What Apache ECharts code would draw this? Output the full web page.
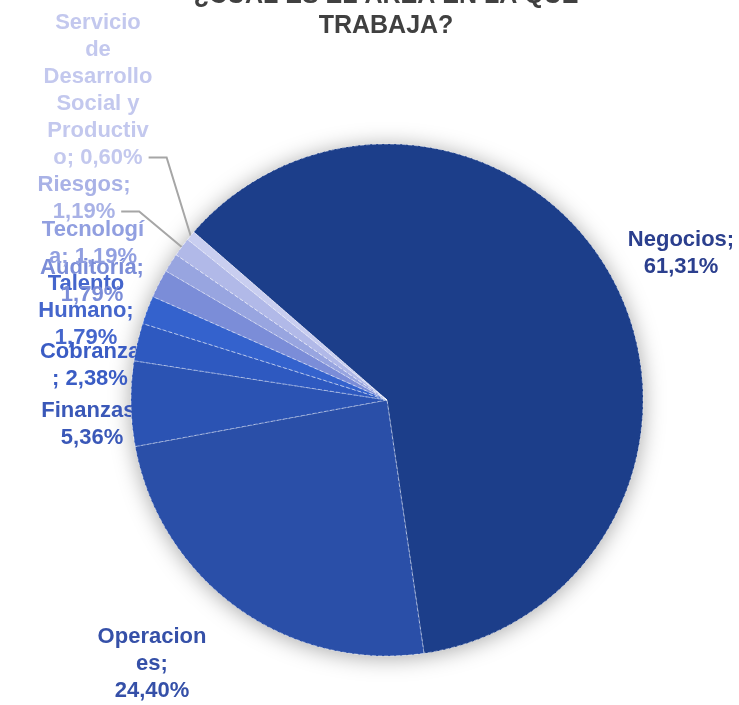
<!DOCTYPE html>
<html>
<head>
<meta charset="utf-8">
<script src="https://cdn.jsdelivr.net/npm/echarts@6/dist/echarts.min.js"></script>
<style>html,body{margin:0;padding:0;background:#fff;}#c{width:739px;height:705px;}</style>
</head>
<body>
<div id="c"></div>
<script>
const titleLines = ['¿CUÁL ES EL ÁREA EN LA QUE', 'TRABAJA?'];
const categories = ['Negocios', 'Operaciones', 'Finanzas', 'Cobranza', 'Talento Humano', 'Auditoría', 'Tecnología', 'Riesgos', 'Servicio de Desarrollo Social y Productivo'];
const values = [61.31, 24.40, 5.36, 2.38, 1.79, 1.79, 1.19, 1.19, 0.60];
// wrapped display text of each category name, as in the picture (value appended)
const labelNames = ['Negocios;\n', 'Operacion\nes;\n', 'Finanzas;\n', 'Cobranza\n; ', 'Talento\nHumano;\n', 'Auditoría;\n', 'Tecnologí\na; ', 'Riesgos;\n', 'Servicio\nde\nDesarrollo\nSocial y\nProductiv\no; '];

const colors = ['#1c3e8a', '#2a4fa8', '#2b53b3', '#2e59c0', '#3462cd', '#7b8dd8', '#98a5e0', '#b1b9e8', '#c9cef0'];
const labelColors = ['#2b3f8e', '#3550a8', '#3a58b8', '#3a5cc4', '#4566cc', '#7b8dd8', '#919fe0', '#a9b2e6', '#c3c8ee'];

// label placement (layout only): centre of each label box
const labelPlace = [[681, 253], [152, 664], [92, 424], [90, 365], [86, 311], [92, 281], [93, 243], [84, 198], [98, 90]];
const LINE_H = 27;

function fmt(v) { return v.toFixed(2).replace('.', ',') + '%'; }
const texts = categories.map((c, i) => labelNames[i] + fmt(values[i]));

const ctx = document.createElement('canvas').getContext('2d');
ctx.font = 'bold 22px "Liberation Sans"';

const labelData = categories.map((c, i) => ({
  name: c,
  value: values[i],
  itemStyle: { color: colors[i] },
  label: { color: labelColors[i], formatter: texts[i] },
  labelLine: { show: i >= 7 }
}));
const pieData = categories.map((c, i) => ({ name: c, value: values[i], itemStyle: { color: colors[i] } }));

const common = { center: [387, 400], radius: 256, startAngle: 139, clockwise: true };

const chart = echarts.init(document.getElementById('c'));
chart.setOption({
  animation: false,
  title: {
    text: titleLines.join('\n'),
    left: 381,
    top: -24,
    textAlign: 'center',
    textStyle: { fontFamily: 'Liberation Sans', fontSize: 25, fontWeight: 'bold', color: '#404040', lineHeight: 30 }
  },
  series: [
    Object.assign({
      type: 'pie',
      silent: true,
      label: { show: false },
      labelLine: { show: false },
      itemStyle: { color: '#ffffff', shadowBlur: 22, shadowColor: 'rgba(0,0,0,0.35)', shadowOffsetY: 2 },
      data: [{ value: 1 }],
      z: 1
    }, common, { startAngle: 90 }),
    Object.assign({
      type: 'pie',
      silent: true,
      avoidLabelOverlap: false,
      label: {
        show: true,
        position: 'outside',
        fontFamily: 'Liberation Sans',
        fontSize: 22,
        fontWeight: 'bold',
        lineHeight: LINE_H,
        align: 'center',
        overflow: 'none'
      },
      labelLine: { length: 12, length2: 12, lineStyle: { color: '#a6a6a6', width: 2 } },
      labelLayout: function (p) {
        const i = p.dataIndex;
        const pos = labelPlace[i];
        const out = { x: pos[0], y: pos[1], align: 'center', verticalAlign: 'middle', hideOverlap: false };
        if (i >= 7 && p.labelLinePoints) {
          const lines = texts[i].split('\n');
          const w = ctx.measureText(lines[lines.length - 1]).width;
          const ly = pos[1] + (lines.length - 1) * LINE_H / 2;
          const sx = pos[0] + w / 2 + 6;
          out.labelLinePoints = [p.labelLinePoints[0], [sx + 18, ly], [sx, ly]];
        }
        return out;
      },
      data: labelData,
      z: 2
    }, common),
    Object.assign({
      type: 'pie',
      label: { show: false },
      labelLine: { show: false },
      itemStyle: { borderColor: 'rgba(255,255,255,0.5)', borderWidth: 1, borderType: 'dashed' },
      data: pieData,
      z: 3
    }, common)
  ]
});
</script>
</body>
</html>
